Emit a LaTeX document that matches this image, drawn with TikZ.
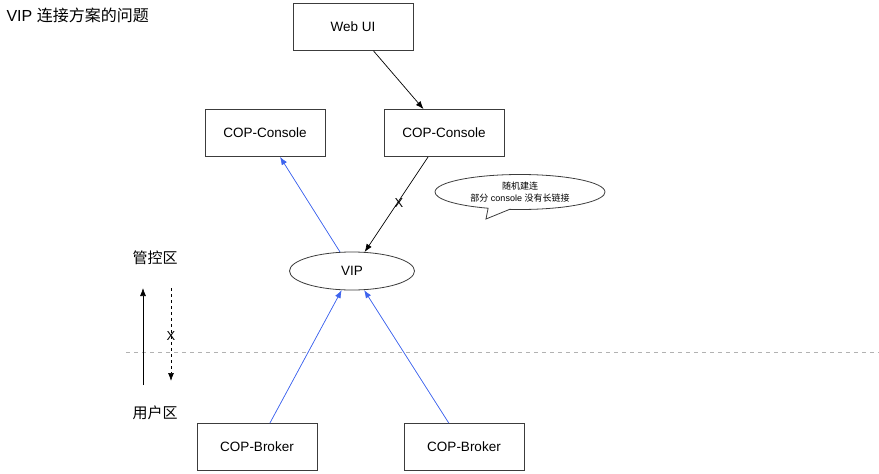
\documentclass[tikz,border=0pt]{standalone}
\usepackage{fontspec}
\setmainfont{Liberation Sans}
\newfontfamily\cjk{Noto Sans CJK SC}
\usepackage{xcolor}
\usetikzlibrary{arrows.meta,shapes.geometric,shapes.callouts}
\definecolor{linkblue}{RGB}{62,100,238}
\definecolor{boxline}{RGB}{60,60,60}

\begin{document}
\begin{tikzpicture}[
      x=1pt, y=-1pt,
      box/.style = {draw=boxline, line width=0.8pt, font=\fontsize{13.5}{16}\selectfont,
                    minimum width=120pt, minimum height=47pt},
      arrow/.style = {-{Latex[length=8pt,width=6pt]}, line width=0.7pt},
      blink/.style = {arrow, draw=linkblue, fill=linkblue},
      zone/.style = {font=\fontsize{15}{18}\selectfont\cjk}
    ]
    \useasboundingbox (0,0) rectangle (879,474);

    \node (title) [anchor=west, font=\fontsize{16}{19}\selectfont] at (3,15)
          {VIP {\cjk 连接方案的问题}};

    \node (webui) [box] at (353,27)  {Web UI};
    \node (conL)  [box] at (265,133) {COP-Console};
    \node (conR)  [box] at (444,133) {COP-Console};
    \node (vip)   [draw=boxline, line width=0.8pt, ellipse, minimum width=125pt,
                   minimum height=38pt, inner sep=0pt,
                   font=\fontsize{13.5}{16}\selectfont] at (352,271) {VIP};
    \node (brkL)  [box] at (257,447) {COP-Broker};
    \node (brkR)  [box] at (464,447) {COP-Broker};

    \node (note) [ellipse callout, draw=boxline, line width=0.8pt,
                  minimum width=170pt, minimum height=35pt, inner sep=0pt,
                  callout absolute pointer={(486,219)}, align=center,
                  font=\fontsize{9}{12}\selectfont] at (520,192)
          {{\cjk 随机建连}\\{\cjk 部分} console {\cjk 没有长链接}};

    % zones
    \node (ctrl) [zone] at (155,258) {管控区};
    \node (user) [zone] at (155,413) {用户区};
    \coordinate (upS) at (143,385);
    \coordinate (upE) at (143,288);
    \coordinate (dnS) at (171,288);
    \coordinate (dnE) at (171,381);
    \coordinate (sepW) at (126,352);
    \coordinate (sepE) at (879,352);

    \draw[dashed, draw=black!30, line width=0.8pt, dash pattern=on 4pt off 4pt] (sepW) -- (sepE);
    \draw[arrow] (upS) -- (upE);
    \draw[arrow, dashed, dash pattern=on 3pt off 3pt] (dnS) -- (dnE)
          node[pos=0.52, font=\fontsize{13}{15}\selectfont] {X};

    \draw[arrow] (webui) -- (conR);
    \draw[arrow] (conR) -- (vip)
          node[pos=0.49, xshift=2pt, font=\fontsize{13}{15}\selectfont] {X};

    \draw[blink] (vip) -- (conL);
    \draw[blink] (brkL) -- (vip);
    \draw[blink] (brkR) -- (vip);
\end{tikzpicture}
\end{document}
